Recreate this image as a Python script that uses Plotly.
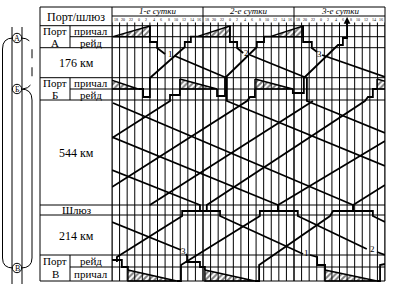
import plotly.graph_objects as go

# ---------------- data (x = hours from start of day 1, y = position on the diagram) ----------------
hour_labels = ["18", "20", "22", "0", "2", "4", "6", "8", "10", "12", "14", "16"]
day_labels = ["1-е сутки", "2-е сутки", "3-е сутки"]

# loading at port A (berth), unloading at ports Б and В (hatched triangles)
load_A = [[(0.26, 36.7), (10.0, 26), (10.0, 36.7)],
          [(22.4, 36.7), (31.1, 26), (31.1, 36.7)],
          [(41.7, 36.7), (50.4, 26), (50.4, 36.7)]]
unload_B = [[(-1.0, 79), (6.9, 89), (-1.0, 89)],
            [(17.9, 79), (27.7, 89), (17.9, 89)],
            [(37.7, 79), (47.7, 89), (37.7, 89)],
            [(69.9, 79), (79.6, 89), (69.9, 89)]]
unload_V = [[(4.2, 270), (17.1, 281), (4.2, 281)],
            [(24.5, 270), (37.7, 281), (24.5, 281)],
            [(56.2, 270), (69.9, 281), (56.2, 281)]]

# ship movement lines
ship1_a = [(10.0, 26), (10.0, 42), (11.9, 42), (11.9, 48), (14.0, 54)]
ship1_b = [(16.6, 56), (30.3, 78), (30.3, 101), (72.0, 166)]
ship2_a = [(31.1, 26), (31.1, 42), (33.0, 42), (33.0, 48), (34.6, 53)]
ship2_b = [(36.4, 55), (51.4, 78), (51.4, 101), (72.0, 133)]
ship3_a = [(50.4, 26), (50.4, 42), (52.7, 42), (52.7, 48), (54.1, 52)]
ship3_b = [(55.4, 55), (72.0, 77)]

return_A1 = [(6.9, 89), (8.2, 89), (8.2, 97), (10.0, 97), (10.0, 78), (19.2, 47),
             (19.2, 42), (20.8, 42), (20.8, 36.7), (22.4, 36.7)]
return_A2 = [(27.7, 89), (27.7, 96), (29.8, 96), (29.8, 78), (38.2, 47),
             (38.2, 42), (40.1, 42), (40.1, 36.7), (41.7, 36.7)]
return_A3 = [(47.7, 89), (47.7, 93), (50.6, 93), (50.6, 78), (59.6, 45),
             (60.9, 45), (60.9, 38), (62.0, 38), (62.0, 21)]

up_B1 = [(0, 138), (15.3, 101), (15.3, 95), (17.9, 95), (17.9, 89)]
up_B2 = [(0, 187), (35.6, 101), (36.4, 97), (37.7, 97), (37.7, 89)]
up_B3 = [(10.0, 205), (53.0, 101)]
up_B4 = [(1.3, 262), (1.3, 257), (18.5, 216), (18.5, 211), (25.0, 211), (25.0, 205),
         (66.7, 101), (67.5, 97), (68.8, 97), (68.8, 89), (69.9, 89)]
up_B5 = [(17.1, 281), (18.2, 281), (18.2, 265), (39.0, 216), (39.0, 211),
         (43.8, 211), (43.8, 205), (72.0, 141)]
up_B6 = [(37.7, 281), (38.8, 281), (38.8, 265), (57.5, 216), (58.3, 211),
         (63.6, 211), (63.6, 205), (72.0, 185)]

down_V1 = [(0.26, 103), (63.6, 205), (63.6, 211), (68.8, 211), (68.8, 216), (72.0, 222)]
down_V2 = [(0, 137), (43.8, 205), (43.8, 211), (49.0, 211), (49.0, 216), (67.2, 249)]
down_V2b = [(69.9, 252), (72.0, 255)]
down_V3 = [(0, 170), (23.2, 205), (23.2, 211), (28.5, 211), (28.5, 216), (50.4, 254)]
down_V3b = [(52.2, 255), (54.1, 257), (54.1, 265), (56.2, 265), (56.2, 270)]
down_V0 = [(0, 222), (18.2, 250)]
down_V0b = [(19.5, 254), (19.8, 256), (19.8, 262), (23.2, 262), (23.2, 267), (24.5, 267), (24.5, 270)]
arrive_V = [(0, 260), (2.6, 260), (2.6, 267), (4.2, 267), (4.2, 270)]
leave_V = [(69.9, 281), (70.7, 281), (70.7, 265), (72.0, 264)]

routes = [ship1_a, ship1_b, ship2_a, ship2_b, ship3_a, ship3_b,
          return_A1, return_A2, return_A3,
          up_B1, up_B2, up_B3, up_B4, up_B5, up_B6,
          down_V1, down_V2, down_V2b, down_V3, down_V3b, down_V0, down_V0b,
          arrive_V, leave_V]

ship_labels = [("1", 15.3, 54), ("2", 35.4, 53), ("3", 54.8, 54),
               ("3", 18.9, 251), ("1", 51.3, 253), ("2", 68.6, 249)]

# table rows (y positions)
table_top, day_line, header_bottom, table_bottom = 7.0, 16.0, 25.7, 281.0
full_rows = [25.7, 47.7, 77.7, 100.0, 205.0, 215.0, 255.0]
sub_rows = [36.7, 89.0, 267.0]
port_blocks = [(25.7, 47.7), (77.7, 100.0), (255.0, 281.0)]

left_texts = [("Порт/шлюз", 76, 16.5, 12),
              ("Порт", 55, 30.6, 11), ("А", 55, 43.2, 11), ("причал", 91, 31, 11), ("рейд", 91, 42.8, 11),
              ("176 км", 76, 63, 12),
              ("Порт", 55, 82.6, 11), ("Б", 55, 95.4, 11), ("причал", 91, 83, 11), ("рейд", 91, 95, 11),
              ("544 км", 76, 153, 12),
              ("Шлюз", 76, 210, 11),
              ("214 км", 76, 236, 12),
              ("Порт", 55, 261, 11), ("В", 55, 274.4, 11), ("рейд", 91, 261, 11), ("причал", 91, 274, 11)]

scheme_nodes = [("А", 38), ("Б", 89), ("В", 268)]

# ---------------- figure ----------------
W, H = 420, 291
CX0, CX1 = 112, 385   # chart area (pixels) for the time axis domain
FONT = "Liberation Serif"


def px(v):
    return v / W


fig = go.Figure()

for tri in load_A + unload_B + unload_V:
    xs = [p[0] for p in tri] + [tri[0][0]]
    ys = [p[1] for p in tri] + [tri[0][1]]
    fig.add_trace(go.Scatter(x=xs, y=ys, mode="lines", fill="toself",
                             fillcolor="white",
                             fillpattern=dict(shape="/", fgcolor="black", bgcolor="white",
                                              size=4, solidity=0.5),
                             line=dict(color="black", width=1.4), hoverinfo="skip",
                             showlegend=False))

for r in routes:
    fig.add_trace(go.Scatter(x=[p[0] for p in r], y=[p[1] for p in r], mode="lines",
                             line=dict(color="black", width=1.8), hoverinfo="skip",
                             showlegend=False))

shapes = []
L = dict(color="black", width=1)


def hline(y, x0, x1):
    shapes.append(dict(type="line", xref="paper", yref="y", x0=px(x0), x1=px(x1),
                       y0=y, y1=y, line=L))


def vline(x, y0, y1):
    shapes.append(dict(type="line", xref="paper", yref="y", x0=px(x), x1=px(x),
                       y0=y0, y1=y1, line=L))


# table frame
hline(table_top, 40, CX1)
hline(table_bottom, 40, CX1)
hline(day_line, CX0, CX1)
for y in full_rows:
    hline(y, 40, CX1)
for y in sub_rows:
    hline(y, 70, CX1)
vline(40, table_top, table_bottom)
vline(CX0, table_top, table_bottom)
vline(CX1, table_top, table_bottom)
for (a, b) in port_blocks:
    vline(70, a, b)

# time grid
for h in range(0, 73, 2):
    shapes.append(dict(type="line", xref="x", yref="y", x0=h, x1=h, y0=22.5, y1=table_bottom, line=L))
for h in (24, 48):
    shapes.append(dict(type="line", xref="x", yref="y", x0=h, x1=h, y0=table_top, y1=table_bottom, line=L))

# route scheme on the left
vline(12, 27, 284)
vline(22, 27, 284)
left_loop = (f"M {px(13)} 38 Q {px(2.5)} 38 {px(2.5)} 49 L {px(2.5)} 258 "
             f"Q {px(2.5)} 268 {px(13)} 268")
right_dash = (f"M {px(21)} 38 Q {px(32)} 38 {px(32)} 49 L {px(32)} 79 "
              f"Q {px(32)} 89 {px(21)} 89")
right_solid = (f"M {px(21)} 89 Q {px(32)} 89 {px(32)} 100 L {px(32)} 258 "
               f"Q {px(32)} 268 {px(21)} 268")
shapes.append(dict(type="path", xref="paper", yref="y", path=left_loop, line=L))
shapes.append(dict(type="path", xref="paper", yref="y", path=right_dash,
                   line=dict(color="black", width=1, dash="dash")))
shapes.append(dict(type="path", xref="paper", yref="y", path=right_solid, line=L))
for (_, yc) in scheme_nodes:
    shapes.append(dict(type="circle", xref="paper", yref="y", x0=px(12.3), x1=px(21.7),
                       y0=yc - 4.7, y1=yc + 4.7, fillcolor="white", line=L))

annotations = []


def text(t, x, y, size, xref="paper", italic=False):
    annotations.append(dict(text=f"<i>{t}</i>" if italic else t, x=x, y=y, xref=xref, yref="y",
                            xanchor="center", yanchor="middle", showarrow=False,
                            font=dict(family=FONT, size=size, color="black")))


for (t, x, y, s) in left_texts:
    text(t, px(x), y, s)
for (t, yc) in scheme_nodes:
    text(t, px(17), yc, 8)
for d, t in enumerate(day_labels):
    text(t, d * 24 + 12, 11.3, 9, xref="x", italic=True)
    for k, hl in enumerate(hour_labels):
        text(hl, d * 24 + 2 * k + 1, 19.3, 4, xref="x")
for (t, x, y) in ship_labels:
    text(t, x, y, 9, xref="x")

# arrow at the end of the last return trip to port A
annotations.append(dict(text="", x=return_A3[-1][0], y=17, ax=return_A3[-1][0], ay=27,
                        xref="x", yref="y", axref="x", ayref="y", showarrow=True,
                        arrowhead=2, arrowsize=0.9, arrowwidth=1.5, arrowcolor="black"))

fig.update_layout(
    width=W, height=H, margin=dict(l=0, r=0, t=0, b=0, pad=0),
    paper_bgcolor="white", plot_bgcolor="white", showlegend=False,
    xaxis=dict(range=[0, 72], domain=[px(CX0), px(CX1)], visible=False, fixedrange=True),
    yaxis=dict(range=[H, 0], domain=[0, 1], visible=False, fixedrange=True),
    shapes=shapes, annotations=annotations,
)

fig.write_html("out.html")
